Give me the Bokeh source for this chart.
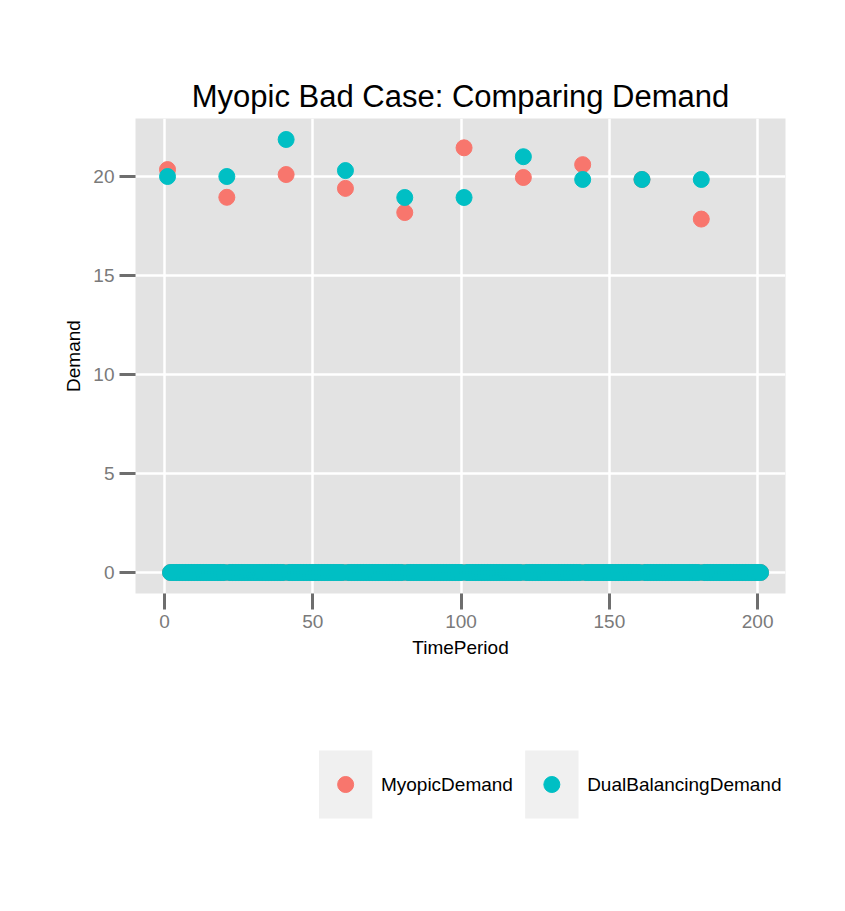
from bokeh.plotting import figure
from bokeh.layouts import column
from bokeh.models import ColumnDataSource, Range1d
from bokeh.core.properties import value
from bokeh.embed import file_html
from bokeh.resources import INLINE

# time periods 1..201, demand is zero except at the sampled periods
time_periods = list(range(1, 202))
sample_periods = [1, 21, 41, 61, 81, 101, 121, 141, 161, 181]
myopic_sample = [20.35, 18.95, 20.1, 19.4, 18.18, 21.45, 19.95, 20.6, 19.85, 17.85]
dual_sample = [20.0, 20.0, 21.87, 20.3, 18.94, 18.94, 21.0, 19.85, 19.85, 19.85]

myopic = [0.0] * len(time_periods)
dual = [0.0] * len(time_periods)
for t, m, d in zip(sample_periods, myopic_sample, dual_sample):
    myopic[t - 1] = m
    dual[t - 1] = d

RED = "#F8766D"
TEAL = "#00BFC4"
FONT = "Liberation Sans"

p = figure(width=829, height=700, output_backend="svg", toolbar_location=None,
           x_range=Range1d(-9.8, 209.4), y_range=Range1d(-1.06, 22.93),
           min_border_left=135, min_border_right=44, min_border_top=118,
           min_border_bottom=107, title="Myopic Bad Case: Comparing Demand")
p.background_fill_color = "#e3e3e3"
p.outline_line_color = None
p.title.align = "center"
p.title.text_font = FONT
p.title.text_font_size = "31px"
p.title.text_font_style = "normal"
p.title.text_color = "black"

src = ColumnDataSource(dict(t=time_periods, myopic=myopic, dual=dual))
p.scatter("t", "myopic", source=src, size=16, color=RED)
p.scatter("t", "dual", source=src, size=16, color=TEAL)

p.xaxis.ticker = [0, 50, 100, 150, 200]
p.yaxis.ticker = [0, 5, 10, 15, 20]
for g in (p.xgrid, p.ygrid):
    g.grid_line_color = "white"
    g.grid_line_width = 2.5
    g.minor_grid_line_color = "white"
    g.minor_grid_line_width = 1
p.xaxis[0].ticker.num_minor_ticks = 2
p.yaxis[0].ticker.num_minor_ticks = 2
p.xaxis.axis_label = "TimePeriod"
p.yaxis.axis_label = "Demand"
for ax in (p.xaxis, p.yaxis):
    ax.axis_line_color = None
    ax.minor_tick_line_color = None
    ax.major_tick_line_color = "#6e6e6e"
    ax.major_tick_line_width = 3
    ax.major_tick_out = 16
    ax.major_tick_in = 0
    ax.major_label_text_font = FONT
    ax.major_label_text_font_size = "19px"
    ax.major_label_text_color = "#7a7a7a"
    ax.axis_label_text_font = FONT
    ax.axis_label_text_font_size = "19px"
    ax.axis_label_text_font_style = "normal"
    ax.axis_label_text_color = "black"
    ax.axis_label_standoff = 6

# legend drawn below in screen-like coordinates
labels = ["MyopicDemand", "DualBalancingDemand"]
colors = [RED, TEAL]
key_x = [268, 531]
key_y = [84, 84]
leg = figure(width=829, height=195, output_backend="svg", toolbar_location=None,
             x_range=Range1d(0, 829), y_range=Range1d(195, 0),
             x_axis_location=None, y_axis_location=None, min_border=0)
leg.grid.visible = False
leg.outline_line_color = None
leg.rect(x=key_x, y=key_y, width=68, height=68, fill_color="#f0f0f0", line_color=None)
leg.scatter(x=key_x, y=key_y, size=16, color=colors)
leg.text(x=[x + 45 for x in key_x], y=key_y, text=labels, text_baseline="middle",
         text_font=value(FONT), text_font_size="19px", text_color="black")

layout = column(p, leg, spacing=0)
open("out.html", "w").write(file_html(layout, INLINE))
